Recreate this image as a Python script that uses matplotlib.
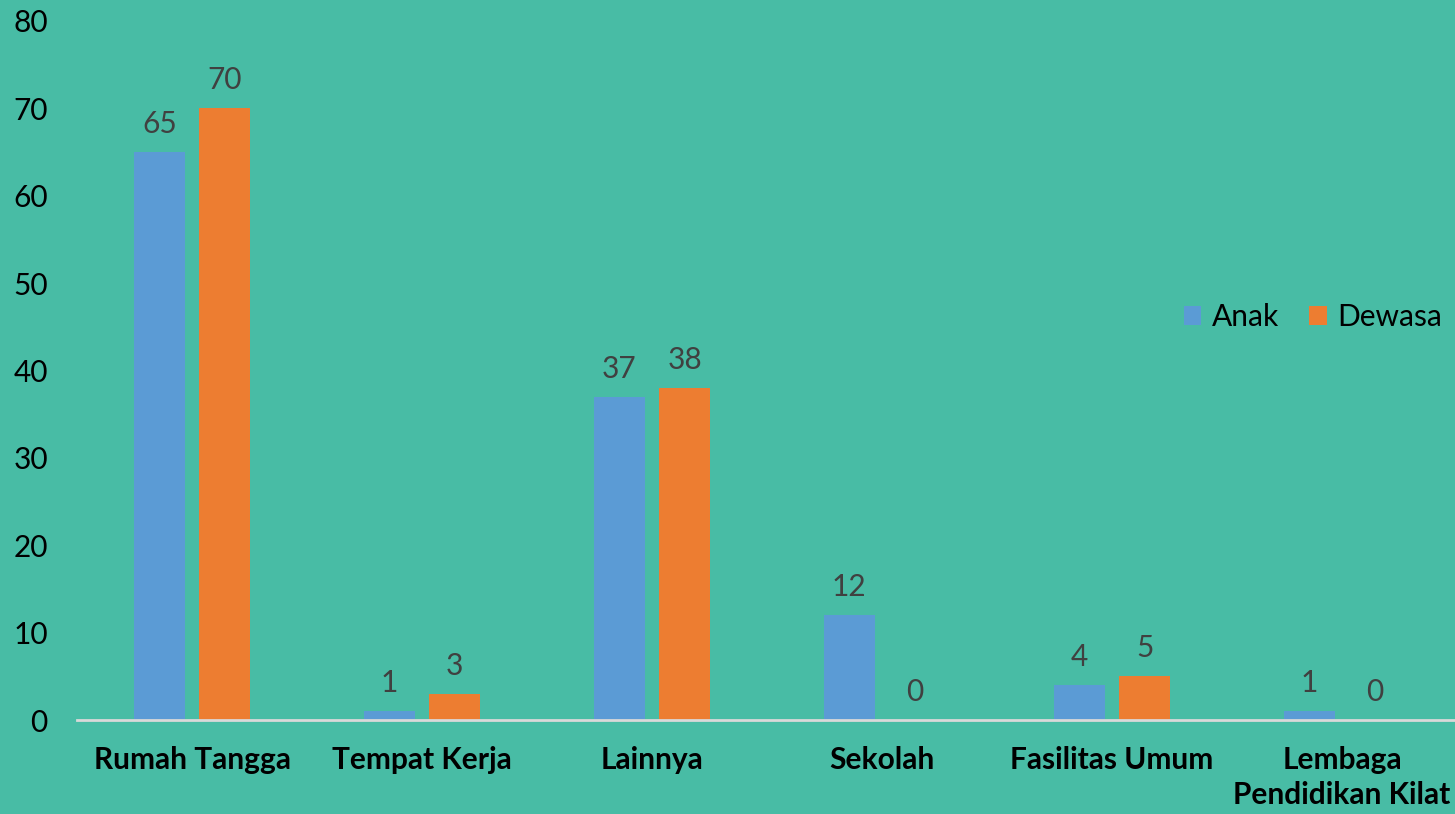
import matplotlib.pyplot as plt
import numpy as np

plt.rcParams['font.family'] = ['Lato', 'DejaVu Sans']

categories = ['Rumah Tangga', 'Tempat Kerja', 'Lainnya', 'Sekolah',
              'Fasilitas Umum', 'Lembaga\nPendidikan Kilat']
anak = [65, 1, 37, 12, 4, 1]
dewasa = [70, 3, 38, 0, 5, 0]
yticks = [0, 10, 20, 30, 40, 50, 60, 70, 80]

bg = '#48BCA5'
fig = plt.figure(figsize=(14.55, 8.14), dpi=100, facecolor=bg)
ax = fig.add_axes([77/1455, 1 - 720/814, 1380/1455, 699/814])
ax.set_facecolor(bg)

x = np.arange(len(categories))
w = 0.222
off = 0.142
b1 = ax.bar(x - off, anak, w, color='#5B9BD5', label='Anak')
b2 = ax.bar(x + off, dewasa, w, color='#ED7D31', label='Dewasa')

for bars in (b1, b2):
    for r in bars:
        ax.annotate(str(int(r.get_height())), (r.get_x() + r.get_width()/2, r.get_height()),
                    xytext=(0, 10), textcoords='offset points', ha='center', va='bottom',
                    fontsize=21.5, color='#404040')

ax.set_xlim(-0.5, len(categories) - 0.5)
ax.set_ylim(0, 80)
ax.set_yticks(yticks)
ax.set_xticks(x)
ax.set_xticklabels(categories, fontsize=21.5, fontweight='bold', color='black', linespacing=1.3)
ax.tick_params(axis='y', length=0, pad=21, labelsize=21.5, labelcolor='black')
ax.tick_params(axis='x', length=0, pad=19)
for s in ['top', 'right', 'left']:
    ax.spines[s].set_visible(False)
ax.spines['bottom'].set_color('#D9D9D9')
ax.spines['bottom'].set_linewidth(2)

ax.legend(loc='center right', bbox_to_anchor=(0.998, 0.577),
          ncol=2, frameon=False, fontsize=21.5, handlelength=0.6, handleheight=0.6,
          handletextpad=0.35, columnspacing=1.0, borderaxespad=0)

fig.savefig('out.png', dpi=100, facecolor=bg)
